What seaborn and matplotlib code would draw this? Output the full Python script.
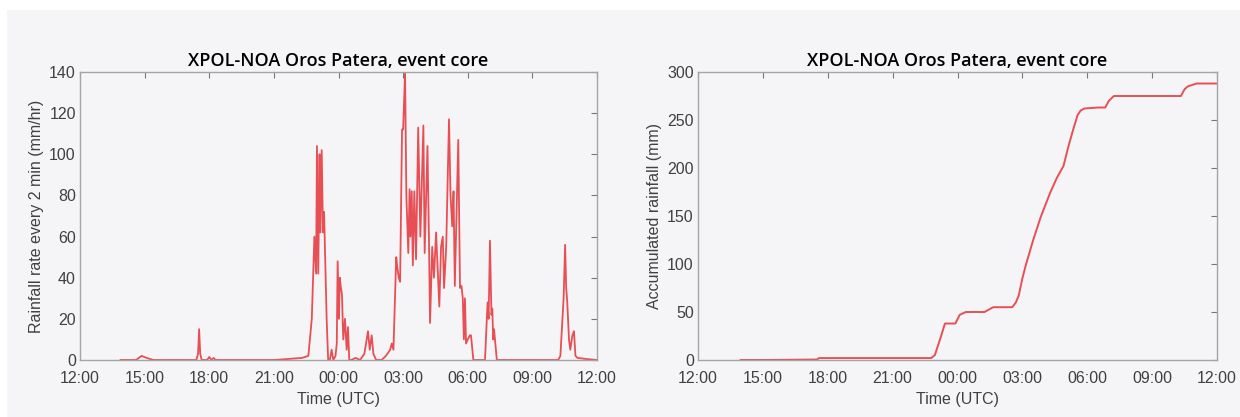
import numpy as np
import pandas as pd
import seaborn as sns
import matplotlib.pyplot as plt
from matplotlib.patches import Rectangle

# hours after 12:00 UTC, rainfall rate (mm/hr)
rate_hours = [1.87, 2.6, 2.86, 3.1, 3.4, 5.4, 5.48, 5.53, 5.58, 5.65, 5.9, 6.0, 6.1, 6.2, 6.3,
              9.0, 10.3, 10.6, 10.76, 10.88, 10.96, 11.0, 11.06, 11.12, 11.16, 11.22, 11.28,
              11.33, 11.37, 11.45, 11.52, 11.6, 11.68, 11.76, 11.86, 11.92, 11.96, 12.02,
              12.06, 12.1, 12.16, 12.22, 12.3, 12.38, 12.44, 12.5, 12.58, 12.8, 13.0, 13.2,
              13.37, 13.45, 13.54, 13.62, 13.75, 14.0, 14.2, 14.4, 14.47, 14.55, 14.68,
              14.73, 14.8, 14.86, 14.95, 15.0, 15.09, 15.15, 15.24, 15.3, 15.34, 15.4, 15.45,
              15.52, 15.6, 15.7, 15.8, 15.94, 16.0, 16.13, 16.2, 16.25, 16.35, 16.43, 16.53,
              16.6, 16.68, 16.76, 16.84, 16.9, 17.0, 17.13, 17.2, 17.28, 17.34, 17.4, 17.56,
              17.64, 17.71, 17.77, 17.82, 17.87, 17.92, 18.0, 18.1, 18.15, 18.26, 18.8,
              18.92, 18.97, 19.03, 19.1, 19.14, 19.18, 19.22, 19.35, 22.2, 22.3, 22.45,
              22.52, 22.57, 22.62, 22.7, 22.76, 22.86, 22.93, 23.0, 23.1, 23.5, 24.0]
rate_vals = [0, 0, 2, 1, 0, 0, 3, 15, 3, 0, 0, 1.5, 0, 1, 0,
             0, 1, 2, 20, 60, 42, 104, 42, 100, 62, 102, 62,
             72, 55, 20, 0, 0, 5, 0, 2, 8, 48, 20, 40, 36, 32, 10, 20, 5, 16, 0, 0, 1, 0, 3,
             14, 5, 12, 3, 0, 0, 2, 5, 8, 5, 50,
             45, 40, 38, 112, 112, 140, 80, 52, 83, 60, 82, 46,
             82, 49, 113, 60, 114, 52, 104, 58, 18, 55, 40, 62,
             45, 26, 55, 60, 35, 55, 117, 80, 65, 82, 36, 107,
             35, 36, 30, 10, 30, 8, 10, 12, 12, 0, 0,
             28, 20, 58, 22, 25, 10, 15, 0, 0, 2, 30,
             56, 35, 28, 10, 5, 12, 14, 2, 1, 0.5, 0]

# hours after 12:00 UTC, accumulated rainfall (mm)
acc_hours = [1.96, 3.0, 5.5, 5.6, 10.78, 10.95, 11.2, 11.42, 11.9, 12.1, 12.38, 13.25,
             13.65, 14.53, 14.7, 14.83, 15.0, 15.16, 15.5, 15.85, 16.28, 16.6, 16.9,
             17.1, 17.31, 17.55, 17.7, 17.87, 18.5, 18.83, 19.0, 19.23, 22.33, 22.5,
             22.65, 23.05, 24.0]
acc_vals = [0, 0, 0.5, 2, 2, 5, 22, 38, 38, 47, 50, 50,
            55, 55, 60, 67, 85, 99, 125, 149, 174, 190, 202,
            220, 237, 255, 260, 262, 263, 263, 270, 275, 275, 282,
            285, 288, 288]

tick_hours = [0, 3, 6, 9, 12, 15, 18, 21, 24]
tick_labels = ['12:00', '15:00', '18:00', '21:00', '00:00', '03:00', '06:00', '09:00', '12:00']
title = 'XPOL-NOA Oros Patera, event core'

sns.set_theme(style='white')
plt.rcParams['font.family'] = ['Liberation Sans', 'DejaVu Sans']

bg = '#f5f5f8'
fig = plt.figure(figsize=(12.4, 4.17), dpi=100)
fig.patch.set_facecolor('white')
fig.patches.append(Rectangle((7 / 1240, 0), 1, (417 - 10) / 417, transform=fig.transFigure,
                             facecolor=bg, edgecolor='none', zorder=-10))

ax1 = fig.add_axes([80 / 1240, 57 / 417, 517 / 1240, 288 / 417])
ax2 = fig.add_axes([698 / 1240, 57 / 417, 519 / 1240, 288 / 417])

df_rate = pd.DataFrame({'h': rate_hours, 'v': rate_vals})
df_acc = pd.DataFrame({'h': acc_hours, 'v': acc_vals})
sns.lineplot(data=df_rate, x='h', y='v', ax=ax1, color='#e4262b', lw=1.3, alpha=0.8)
sns.lineplot(data=df_acc, x='h', y='v', ax=ax2, color='#e4262b', lw=1.4, alpha=0.8)

for ax, ymax, ystep, ylab in [(ax1, 140, 20, 'Rainfall rate every 2 min (mm/hr)'),
                              (ax2, 300, 50, 'Accumulated rainfall (mm)')]:
    ax.set_facecolor(bg)
    ax.set_xlim(0, 24)
    ax.set_ylim(0, ymax)
    ax.set_xticks(tick_hours)
    ax.set_xticklabels(tick_labels)
    ax.set_yticks(np.arange(0, ymax + 1, ystep))
    ax.tick_params(direction='in', length=4, width=0.8, color='#777777',
                   top=True, right=True, labelsize=11.5, labelcolor='#404040')
    ax.tick_params(axis='x', pad=8)
    ax.tick_params(axis='y', pad=3)
    for s in ax.spines.values():
        s.set_color('#a5a5a5')
        s.set_linewidth(1.0)
    ax.set_xlabel('Time (UTC)', fontsize=11.5, color='#404040', labelpad=4)
    ax.set_ylabel(ylab, fontsize=11.5, color='#404040', labelpad=4)
    ax.set_title(title, fontsize=13, family=['Open Sans', 'DejaVu Sans'],
                 fontweight='semibold', color='black', pad=4)
    ax.grid(False)

fig.savefig('out.png', dpi=100, facecolor=fig.get_facecolor())
